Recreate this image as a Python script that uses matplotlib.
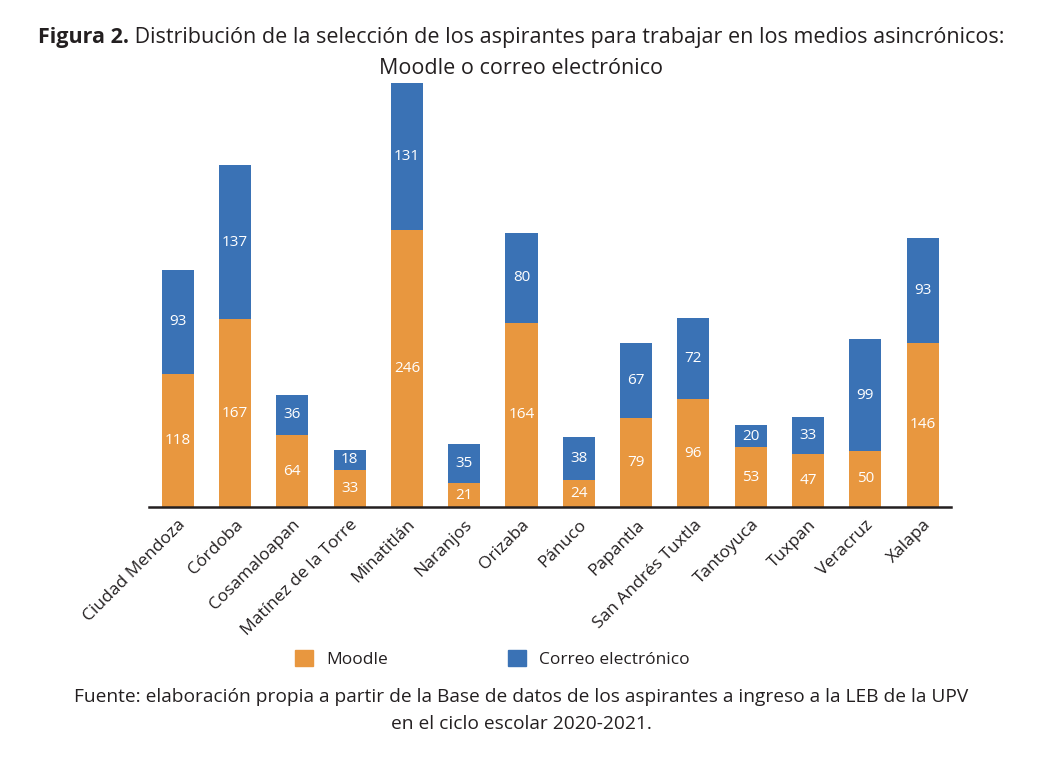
import numpy as np
import matplotlib
matplotlib.use("Agg")
from matplotlib import pyplot as plt
from matplotlib.patches import Patch

plt.rcParams['font.family'] = ['Open Sans', 'DejaVu Sans']
plt.rcParams['text.color'] = '#231F20'
plt.rcParams['xtick.color'] = '#231F20'

#%% data
sedes = ["Ciudad Mendoza", "Córdoba", "Cosamaloapan", "Matínez de la Torre",
         "Minatitlán", "Naranjos", "Orizaba", "Pánuco", "Papantla",
         "San Andrés Tuxtla", "Tantoyuca", "Tuxpan", "Veracruz", "Xalapa"]
moodle = [118, 167, 64, 33, 246, 21, 164, 24, 79, 96, 53, 47, 50, 146]
correo = [93, 137, 36, 18, 131, 35, 80, 38, 67, 72, 20, 33, 99, 93]

naranja = "#E8973F"
azul = "#3A72B5"

#%% figure
fig = plt.figure(figsize=(10.42, 7.7), dpi=100)
ax = fig.add_axes([0.143, 1 - 507/770, 0.770, (507 - 83)/770])

x = np.arange(len(sedes))
w = 0.56
ax.bar(x, moodle, w, color=naranja)
ax.bar(x, correo, w, bottom=moodle, color=azul)

for i in range(len(sedes)):
    ax.text(x[i], moodle[i]/2, str(moodle[i]), ha="center", va="center",
            color="white", fontsize=11)
    ax.text(x[i], moodle[i] + correo[i]/2, str(correo[i]), ha="center",
            va="center", color="white", fontsize=11)

ax.set_xlim(-0.5, len(sedes) - 0.5)
ax.set_ylim(0, max(np.array(moodle) + np.array(correo)))
ax.set_xticks(x)
ax.set_xticklabels(sedes, rotation=45, ha="right", rotation_mode="anchor",
                   fontsize=12.5)
ax.tick_params(axis="x", length=0, pad=7)
ax.set_yticks([])
for s in ["left", "right", "top"]:
    ax.spines[s].set_visible(False)
ax.spines["bottom"].set_linewidth(1.8)
ax.spines["bottom"].set_color("#231F20")
ax.spines["bottom"].set_zorder(5)

#%% title: bold "Figura 2." then regular text, centered together
t1 = fig.text(0, 1 - 38/770, "Figura 2.", fontsize=15.5, weight="bold",
              ha="left", va="center")
t2 = fig.text(0, 1 - 38/770, " Distribución de la selección de los aspirantes para trabajar en los medios asincrónicos:",
              fontsize=15.5, ha="left", va="center")
fig.canvas.draw()
r = fig.canvas.get_renderer()
w1 = t1.get_window_extent(r).width / fig.bbox.width
w2 = t2.get_window_extent(r).width / fig.bbox.width
x0 = 0.5 - (w1 + w2)/2
t1.set_x(x0)
t2.set_x(x0 + w1)
fig.text(0.5, 1 - 68/770, "Moodle o correo electrónico", fontsize=15.5,
         ha="center", va="center")

#%% legend
handles = [Patch(color=naranja, label="Moodle"),
           Patch(color=azul, label="Correo electrónico")]
fig.legend(handles=handles, loc="center", bbox_to_anchor=(0.4727, 1 - 659/770),
           ncol=2, frameon=False, fontsize=12.5, handlelength=1.05,
           handleheight=1.05, columnspacing=6.9, handletextpad=0.75)

#%% source
fig.text(0.5, 1 - 697/770,
         "Fuente: elaboración propia a partir de la Base de datos de los aspirantes a ingreso a la LEB de la UPV",
         fontsize=13.8, ha="center", va="center")
fig.text(0.5, 1 - 724/770, "en el ciclo escolar 2020-2021.", fontsize=13.8,
         ha="center", va="center")

fig.savefig("out.png", dpi=100)
